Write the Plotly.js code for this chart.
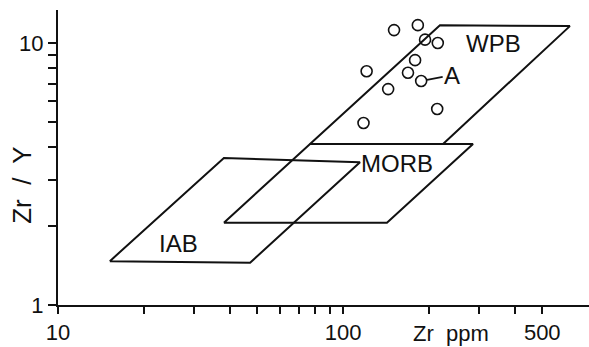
<!DOCTYPE html>
<html>
<head>
<meta charset="utf-8">
<script src="https://cdn.plot.ly/plotly-3.0.1.min.js"></script>
<style>html,body{margin:0;padding:0;background:#fff;}#chart{width:589px;height:347px;}</style>
</head>
<body>
<div id="chart"></div>
<script>
// Field polygons (Zr ppm, Zr/Y)
const iabZr  = [15.2, 47.2, 114.7, 38.2];
const iabZrY = [1.47, 1.45, 3.51, 3.64];
const morbZr  = [38.2, 142.6, 285.8, 76.6];
const morbZrY = [2.06, 2.06, 4.12, 4.12];
const wpbZr  = [76.6, 218.8, 625, 224.4];
const wpbZrY = [4.12, 11.7, 11.6, 4.12];

// Samples
const sampleZr  = [151, 183, 194, 215, 179, 121, 169, 188, 144, 214, 118];
const sampleZrY = [11.2, 11.7, 10.3, 10.0, 8.6, 7.8, 7.7, 7.16, 6.67, 5.6, 4.95];

// Field labels
const fieldNames = ['IAB', 'MORB', 'WPB'];
const fieldLabelZr  = [26.4, 154.5, 336];
const fieldLabelZrY = [1.72, 3.48, 10.0];

// Ticks
const xTickVals = [10,20,30,40,50,60,70,80,90,100,200,300,400,500];
const xTickText = ['10','','','','','','','','','100','','','','500'];
const yTickVals = [1,2,3,4,5,6,7,8,9,10];
const yTickText = ['1','','','','','','','','','10'];

const FONT = 'Liberation Sans, Arial, sans-serif';
const close = a => a.concat([a[0]]);
const lineStyle = {color:'#111', width:2};

const traces = [
  {x: close(iabZr),  y: close(iabZrY),  mode:'lines', line: lineStyle, hoverinfo:'skip'},
  {x: close(morbZr), y: close(morbZrY), mode:'lines', line: lineStyle, hoverinfo:'skip'},
  {x: close(wpbZr),  y: close(wpbZrY),  mode:'lines', line: lineStyle, hoverinfo:'skip'},
  {x: sampleZr, y: sampleZrY, mode:'markers',
   marker:{symbol:'circle-open', size:11, color:'#111', line:{width:1.6}}}
];

const annotations = fieldNames.map((t,i)=>({
  x: Math.log10(fieldLabelZr[i]), y: Math.log10(fieldLabelZrY[i]), text: t,
  showarrow:false, font:{family:FONT, size:24, color:'#111'}
}));
annotations.push({
  x: Math.log10(sampleZr[7]), y: Math.log10(sampleZrY[7]), text:'A',
  showarrow:true, arrowhead:0, arrowwidth:1.6, arrowcolor:'#111',
  ax:31, ay:-6, standoff:6, font:{family:FONT, size:24, color:'#111'}
});
annotations.push({
  xref:'paper', yref:'paper', x:-0.068, y:0.407, xanchor:'center', yanchor:'middle',
  text:'Zr  /  Y', textangle:-90,
  showarrow:false, font:{family:FONT, size:26, color:'#111'}
});
annotations.push({
  xref:'paper', yref:'paper', x:0.740, y:-0.096, xanchor:'center', yanchor:'middle',
  text:'Zr  ppm',
  showarrow:false, font:{family:FONT, size:22, color:'#111'}
});

const layout = {
  width:589, height:347,
  margin:{l:58, r:0, t:10, b:42},
  paper_bgcolor:'#fff', plot_bgcolor:'#fff',
  showlegend:false,
  font:{family:FONT, size:22, color:'#111'},
  xaxis:{type:'log', range:[1, 2.863], showgrid:false, zeroline:false,
         showline:true, linecolor:'#111', linewidth:2,
         ticks:'outside', ticklen:7, tickwidth:2, tickcolor:'#111',
         tickmode:'array', tickvals:xTickVals, ticktext:xTickText,
         ticklabelstandoff:0, automargin:false},
  yaxis:{type:'log', range:[0, 1.126], showgrid:false, zeroline:false,
         showline:true, linecolor:'#111', linewidth:2,
         ticks:'outside', ticklen:8, tickwidth:2, tickcolor:'#111',
         tickmode:'array', tickvals:yTickVals, ticktext:yTickText,
         automargin:false},
  annotations: annotations
};

Plotly.newPlot('chart', traces, layout, {staticPlot:true, displayModeBar:false});
</script>
</body>
</html>
